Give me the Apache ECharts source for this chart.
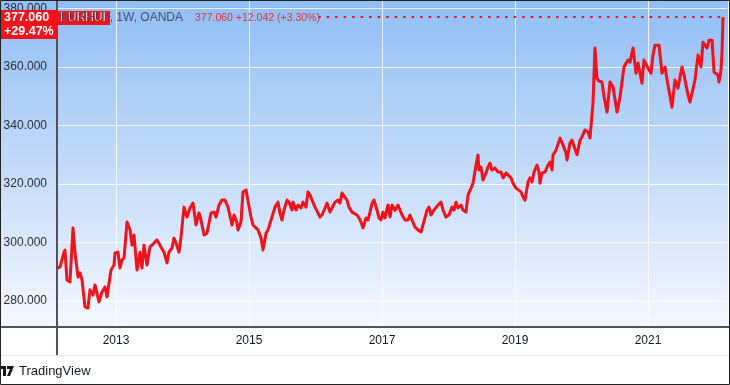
<!DOCTYPE html>
<html>
<head>
<meta charset="utf-8">
<script src="https://cdn.jsdelivr.net/npm/echarts@6/dist/echarts.min.js"></script>
<style>
  html, body { margin: 0; padding: 0; background: #ffffff; }
  #chart { width: 730px; height: 385px; }
</style>
</head>
<body>
<div id="chart"></div>
<script>
// Weekly EUR/HUF (OANDA) close, x in decimal years
const years = [
  2012.113, 2012.158, 2012.218, 2012.233, 2012.263, 2012.308, 2012.354, 2012.384, 2012.429, 2012.459,
  2012.489, 2012.534, 2012.579, 2012.609, 2012.654, 2012.684, 2012.745, 2012.790, 2012.835, 2012.865,
  2012.925, 2012.970, 2012.985, 2013.030, 2013.060, 2013.090, 2013.121, 2013.166, 2013.211, 2013.241,
  2013.271, 2013.316, 2013.361, 2013.391, 2013.421, 2013.466, 2013.511, 2013.572, 2013.617, 2013.662,
  2013.722, 2013.767, 2013.797, 2013.842, 2013.872, 2013.902, 2013.948, 2013.978, 2014.023, 2014.068,
  2014.113, 2014.158, 2014.203, 2014.248, 2014.278, 2014.324, 2014.369, 2014.429, 2014.474, 2014.504,
  2014.549, 2014.594, 2014.639, 2014.684, 2014.745, 2014.775, 2014.820, 2014.835, 2014.880, 2014.910,
  2014.955, 2014.985, 2015.030, 2015.060, 2015.105, 2015.136, 2015.181, 2015.211, 2015.256, 2015.286,
  2015.346, 2015.391, 2015.436, 2015.466, 2015.496, 2015.527, 2015.572, 2015.602, 2015.647, 2015.662,
  2015.707, 2015.737, 2015.782, 2015.812, 2015.857, 2015.887, 2015.918, 2015.948, 2015.993, 2016.038,
  2016.068, 2016.098, 2016.143, 2016.173, 2016.218, 2016.248, 2016.293, 2016.339, 2016.369, 2016.399,
  2016.429, 2016.474, 2016.504, 2016.549, 2016.579, 2016.624, 2016.654, 2016.684, 2016.715, 2016.760,
  2016.790, 2016.820, 2016.850, 2016.880, 2016.925, 2016.955, 2016.985, 2017.015, 2017.045, 2017.090,
  2017.121, 2017.151, 2017.196, 2017.241, 2017.271, 2017.301, 2017.346, 2017.391, 2017.421, 2017.451,
  2017.496, 2017.542, 2017.587, 2017.617, 2017.677, 2017.707, 2017.737, 2017.782, 2017.842, 2017.887,
  2017.918, 2017.963, 2018.008, 2018.053, 2018.083, 2018.113, 2018.143, 2018.188, 2018.218, 2018.263,
  2018.293, 2018.339, 2018.369, 2018.414, 2018.444, 2018.459, 2018.489, 2018.519, 2018.564, 2018.594,
  2018.624, 2018.654, 2018.699, 2018.745, 2018.790, 2018.820, 2018.865, 2018.895, 2018.940, 2018.970,
  2019.015, 2019.045, 2019.090, 2019.121, 2019.151, 2019.196, 2019.226, 2019.256, 2019.286, 2019.331,
  2019.361, 2019.376, 2019.406, 2019.451, 2019.496, 2019.527, 2019.557, 2019.572, 2019.617, 2019.647,
  2019.677, 2019.722, 2019.767, 2019.782, 2019.827, 2019.857, 2019.902, 2019.933, 2019.978, 2020.008,
  2020.053, 2020.098, 2020.128, 2020.173, 2020.203, 2020.233, 2020.263, 2020.308, 2020.339, 2020.384,
  2020.429, 2020.474, 2020.504, 2020.534, 2020.579, 2020.609, 2020.639, 2020.699, 2020.730, 2020.775,
  2020.820, 2020.850, 2020.910, 2020.940, 2021.000, 2021.045, 2021.075, 2021.105, 2021.166, 2021.211,
  2021.256, 2021.301, 2021.361, 2021.406, 2021.451, 2021.511, 2021.542, 2021.602, 2021.632, 2021.707,
  2021.752, 2021.797, 2021.827, 2021.887, 2021.918, 2021.963, 2021.993, 2022.053, 2022.068, 2022.098,
  2022.113, 2022.128
];
const prices = [
  291.2, 291.6, 296.7, 297.4, 287.2, 286.5, 305.0, 296.4, 288.2, 289.6,
  287.2, 278.0, 277.6, 283.8, 282.0, 285.5, 279.7, 283.1, 284.8, 281.4,
  290.6, 292.3, 296.4, 296.7, 291.3, 294.0, 294.7, 307.0, 304.3, 299.1,
  302.6, 290.6, 296.7, 291.3, 299.1, 292.3, 298.5, 299.8, 300.9, 299.1,
  296.7, 293.0, 296.7, 298.1, 301.5, 299.8, 296.7, 301.9, 312.1, 308.7,
  311.8, 313.5, 306.0, 310.1, 307.7, 302.6, 303.2, 310.1, 310.4, 308.7,
  312.8, 314.5, 314.5, 312.1, 306.0, 309.4, 306.7, 304.3, 307.0, 317.3,
  318.0, 318.0, 308.7, 306.0, 305.0, 304.3, 301.5, 297.4, 303.2, 304.3,
  308.7, 312.1, 313.8, 310.1, 307.7, 311.1, 314.5, 313.8, 311.1, 313.8,
  311.1, 312.8, 311.8, 313.8, 312.1, 317.3, 316.2, 315.6, 312.1, 310.1,
  308.7, 309.4, 311.8, 313.5, 310.4, 311.8, 313.8, 314.5, 313.5, 316.9,
  317.3, 314.5, 312.1, 310.4, 310.1, 309.4, 308.4, 307.0, 305.0, 308.4,
  307.7, 310.4, 313.5, 314.5, 311.1, 308.4, 307.7, 310.4, 308.4, 312.8,
  308.7, 312.8, 311.0, 312.8, 312.8, 309.4, 307.7, 307.7, 309.4, 307.7,
  305.3, 304.3, 303.6, 306.0, 311.1, 312.1, 309.4, 311.1, 312.8, 313.8,
  311.1, 308.7, 309.4, 312.1, 311.1, 313.8, 311.8, 312.8, 311.1, 310.4,
  316.2, 318.6, 320.3, 326.5, 329.9, 324.8, 325.8, 321.4, 323.8, 325.8,
  327.2, 324.8, 325.5, 324.1, 324.1, 322.1, 323.8, 323.8, 322.1, 320.3,
  318.6, 319.0, 317.3, 315.6, 314.5, 320.7, 322.1, 320.7, 324.1, 326.5,
  324.1, 320.3, 323.8, 324.1, 326.5, 327.5, 324.8, 329.9, 331.6, 331.6,
  335.7, 333.3, 330.6, 328.2, 334.0, 335.0, 332.0, 330.0, 335.0, 336.1,
  338.5, 337.8, 335.7, 347.7, 366.5, 356.2, 355.2, 354.9, 350.0, 344.6,
  354.9, 353.2, 349.0, 344.6, 349.7, 354.9, 360.0, 362.4, 361.7, 366.5,
  357.9, 361.4, 354.5, 362.4, 359.7, 357.9, 364.0, 367.5, 367.5, 357.9,
  360.0, 353.8, 346.3, 355.6, 352.8, 360.0, 357.3, 350.4, 348.0, 355.6,
  364.1, 360.0, 368.5, 366.5, 369.2, 369.2, 358.3, 357.3, 354.9, 359.0,
  365.0, 377.06
];
const yTicks = [280, 300, 320, 340, 360, 380];
const xTicks = [2013, 2015, 2017, 2019, 2021];

const lastYear = years[years.length - 1];
const lastPrice = prices[prices.length - 1];
const seriesData = years.map((y, i) => [y, prices[i]]);

const chart = echarts.init(document.getElementById('chart'), null, { renderer: 'canvas' });
const FONT = 'Liberation Sans, Arial, sans-serif';
const RED = '#f2121a';

chart.setOption({
  animation: false,
  backgroundColor: '#ffffff',
  grid: { left: 57, right: 3, top: 1, bottom: 58, containLabel: false },
  xAxis: {
    type: 'value',
    min: 2012.113,
    max: 2022.188,
    axisLine: { show: false },
    axisTick: { show: false },
    splitLine: { show: false },
    axisLabel: {
      customValues: xTicks,
      formatter: v => String(Math.round(v)),
      color: '#131722', fontSize: 12, fontFamily: FONT, margin: 8
    }
  },
  yAxis: {
    type: 'value',
    min: 271.1,
    max: 382.6,
    axisLine: { show: false },
    axisTick: { show: false },
    splitLine: { show: false },
    axisLabel: {
      customValues: yTicks,
      formatter: v => v.toFixed(3),
      color: '#2a2e39', fontSize: 12, fontFamily: FONT, margin: 10
    }
  },
  graphic: [
    { type: 'rect', z: -10, silent: true,
      shape: { x: 1, y: 1, width: 727, height: 326 },
      style: { fill: { type: 'linear', x: 0, y: 0, x2: 0, y2: 1, global: false,
        colorStops: [ { offset: 0, color: '#91bef4' }, { offset: 0.5, color: '#c2daf8' }, { offset: 1, color: '#f5f8fe' } ] } } },
    { type: 'line', z: 100, silent: true, shape: { x1: 0, y1: 327, x2: 730, y2: 327 }, style: { stroke: '#50535e', lineWidth: 2 } },
    { type: 'line', z: 100, silent: true, shape: { x1: 57, y1: 0, x2: 57, y2: 355 }, style: { stroke: '#50535e', lineWidth: 2 } },
    { type: 'line', z: 100, silent: true, shape: { x1: 0, y1: 355.5, x2: 730, y2: 355.5 }, style: { stroke: '#e3e6ee', lineWidth: 1 } },
    // price label on the axis
    { type: 'rect', z: 110, silent: true, shape: { x: 1, y: 10, width: 56, height: 29 }, style: { fill: RED } },
    { type: 'text', z: 111, silent: true, x: 4, y: 18, style: { text: '377.060', fill: '#ffffff', font: 'bold 12.5px ' + FONT, verticalAlign: 'middle' } },
    { type: 'text', z: 111, silent: true, x: 4, y: 32, style: { text: '+29.47%', fill: '#ffffff', font: 'bold 12.5px ' + FONT, verticalAlign: 'middle' } },
    // legend
    { type: 'rect', z: 110, silent: true, shape: { x: 58, y: 11, width: 52, height: 14 }, style: { fill: RED } },
    { type: 'text', z: 111, silent: true, x: 60, y: 18, style: { text: 'EURHUF', fill: '#ffffff', font: '12px ' + FONT, verticalAlign: 'middle' } },
    { type: 'text', z: 112, silent: true, x: 61, y: 18, style: { text: 'EURHUF, 1W, OANDA', fill: 'rgba(60,55,90,0.85)', font: '12px ' + FONT, verticalAlign: 'middle' } },
    { type: 'text', z: 112, silent: true, x: 195, y: 18, style: { text: '377.060 +12.042 (+3.30%)', fill: '#e0303c', font: '10.5px ' + FONT, verticalAlign: 'middle' } },
    // footer
    { type: 'polygon', z: 100, silent: true, shape: { points: [[1, 366], [6, 366], [6, 376], [3, 376], [3, 369], [1, 369]] }, style: { fill: '#131722' } },
    { type: 'polygon', z: 100, silent: true, shape: { points: [[7, 366], [14, 366], [10, 376], [7, 376], [10, 369], [7, 369]] }, style: { fill: '#131722' } },
    { type: 'text', z: 100, silent: true, x: 19, y: 371, style: { text: 'TradingView', fill: '#131722', font: '13px ' + FONT, verticalAlign: 'middle' } },
    // border
    { type: 'rect', z: 200, silent: true, shape: { x: 0.5, y: 0.5, width: 729, height: 384 }, style: { fill: null, stroke: '#222222', lineWidth: 1 } }
  ],
  series: [
    {
      type: 'line', name: 'grid', data: seriesData, z: 1, silent: true,
      showSymbol: false, lineStyle: { opacity: 0 },
      markLine: {
        silent: true, symbol: 'none', label: { show: false },
        lineStyle: { color: 'rgba(255,255,255,0.8)', width: 1, type: 'solid' },
        data: [ ...yTicks.map(v => ({ yAxis: v })), ...xTicks.map(v => ({ xAxis: v })) ]
      }
    },
    {
      type: 'line', name: 'EURHUF', data: seriesData, z: 5,
      showSymbol: false, symbol: 'none',
      lineStyle: { color: RED, width: 3, join: 'round' },
      markLine: {
        silent: true, symbol: 'none', label: { show: false },
        lineStyle: { color: RED, width: 2, type: [2.5, 6] },
        data: [[ { coord: [2016.04, lastPrice] }, { coord: [lastYear, lastPrice] } ]]
      }
    }
  ]
});
</script>
</body>
</html>
